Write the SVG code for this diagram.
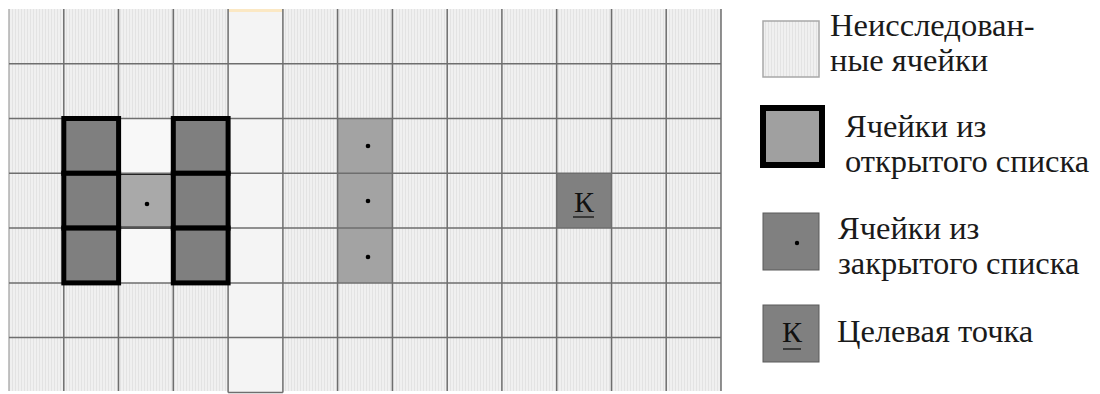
<svg xmlns="http://www.w3.org/2000/svg" width="1100" height="394" viewBox="0 0 1100 394">
<style>
.gl{stroke:#6e6e6e;stroke-width:1.5;fill:none}
.open{fill:#7f7f7f;stroke:#000;stroke-width:5}
.closed{fill:#a3a3a3}
.dot{fill:#000}
.txt{font-family:"Liberation Serif","Times New Roman",serif;font-size:32.5px;fill:#1a1a1a}
.k{font-family:"Liberation Serif","Times New Roman",serif;font-size:30px;fill:#111;text-anchor:middle}
.ul{stroke:#222;stroke-width:1.5}
</style>
<defs>
<pattern id="tex" width="3" height="4" patternUnits="userSpaceOnUse">
<rect width="3" height="4" fill="#f0f0f0"/>
<rect x="0" width="1" height="4" fill="#e3e3e3"/>
</pattern>
</defs>
<rect width="1100" height="394" fill="#ffffff"/>

<g id="grid">
<rect x="9" y="9" width="712" height="382" fill="url(#tex)"/>
<rect x="228.1" y="9" width="54.8" height="383.4" fill="#f4f4f4"/>
<rect x="229" y="9" width="53" height="3" fill="#fbe8c4"/>
</g>

<g id="cell-start">
<rect x="118.5" y="173.3" width="54.8" height="54.8" fill="#a9a9a9" stroke="#000" stroke-width="3"/>
<circle class="dot" cx="147" cy="204" r="2.3"/>
</g>
<g id="cell-gap-top"><rect x="119" y="119" width="54" height="54" fill="#f8f8f8"/></g>
<g id="cell-gap-bottom"><rect x="119" y="229" width="54" height="54" fill="#f8f8f8"/></g>

<g id="wall">
<rect class="closed" x="337.6" y="118.5" width="54.8" height="164.3"/>
</g>

<g id="target">
<rect x="556.7" y="173.3" width="54.8" height="54.8" fill="#808080"/>
</g>

<g id="gridlines" class="gl">
<line x1="9" y1="9" x2="9" y2="391" stroke="#b0b0b0"/>
<line x1="63.8" y1="9" x2="63.8" y2="391"/>
<line x1="118.5" y1="9" x2="118.5" y2="391"/>
<line x1="173.3" y1="9" x2="173.3" y2="391"/>
<line x1="228.1" y1="9" x2="228.1" y2="392.4"/>
<line x1="282.9" y1="9" x2="282.9" y2="392.4"/>
<line x1="337.6" y1="9" x2="337.6" y2="391"/>
<line x1="392.4" y1="9" x2="392.4" y2="391"/>
<line x1="447.2" y1="9" x2="447.2" y2="391"/>
<line x1="501.9" y1="9" x2="501.9" y2="391"/>
<line x1="556.7" y1="9" x2="556.7" y2="391"/>
<line x1="611.5" y1="9" x2="611.5" y2="391"/>
<line x1="666.2" y1="9" x2="666.2" y2="391"/>
<line x1="721" y1="9" x2="721" y2="391"/>
<line x1="9" y1="63.8" x2="721" y2="63.8"/>
<line x1="9" y1="118.5" x2="721" y2="118.5"/>
<line x1="9" y1="173.3" x2="721" y2="173.3"/>
<line x1="9" y1="228.1" x2="721" y2="228.1"/>
<line x1="9" y1="282.9" x2="721" y2="282.9"/>
<line x1="9" y1="337.6" x2="721" y2="337.6"/>
<line x1="228.1" y1="392.4" x2="282.9" y2="392.4"/>
</g>

<g id="wall-dots">
<circle class="dot" cx="368" cy="146" r="2.3"/>
<circle class="dot" cx="368" cy="201" r="2.3"/>
<circle class="dot" cx="368" cy="257" r="2.3"/>
</g>

<g id="target-label">
<text class="k" x="584" y="212">К</text>
<line class="ul" x1="573" y1="217" x2="594" y2="217"/>
</g>

<g id="open-cells">
<rect class="open" x="63.8" y="118.5" width="54.8" height="54.8"/>
<rect class="open" x="63.8" y="173.3" width="54.8" height="54.8"/>
<rect class="open" x="63.8" y="228.1" width="54.8" height="54.8"/>
<rect class="open" x="173.3" y="118.5" width="54.8" height="54.8"/>
<rect class="open" x="173.3" y="173.3" width="54.8" height="54.8"/>
<rect class="open" x="173.3" y="228.1" width="54.8" height="54.8"/>
</g>

<g id="legend-unexplored">
<rect x="763" y="21" width="56" height="56" fill="url(#tex)" stroke="#a8a8a8" stroke-width="1.5"/>
<text class="txt" x="830" y="36">Неисследован-</text>
<text class="txt" x="830" y="71">ные ячейки</text>
</g>

<g id="legend-open">
<rect x="763" y="108" width="59" height="57" fill="#a0a0a0" stroke="#000" stroke-width="6"/>
<text class="txt" x="845" y="137">Ячейки из</text>
<text class="txt" x="845" y="172">открытого списка</text>
</g>

<g id="legend-closed">
<rect x="763" y="213" width="56" height="57" fill="#808080" stroke="#5a5a5a" stroke-width="1"/>
<circle class="dot" cx="797" cy="243" r="2.2"/>
<text class="txt" x="838" y="239">Ячейки из</text>
<text class="txt" x="838" y="274">закрытого списка</text>
</g>

<g id="legend-target">
<rect x="763" y="305" width="56" height="57" fill="#808080" stroke="#5a5a5a" stroke-width="1"/>
<text class="k" x="792" y="342">К</text>
<line class="ul" x1="783" y1="349" x2="801" y2="349"/>
<text class="txt" x="837" y="342">Целевая точка</text>
</g>
</svg>
